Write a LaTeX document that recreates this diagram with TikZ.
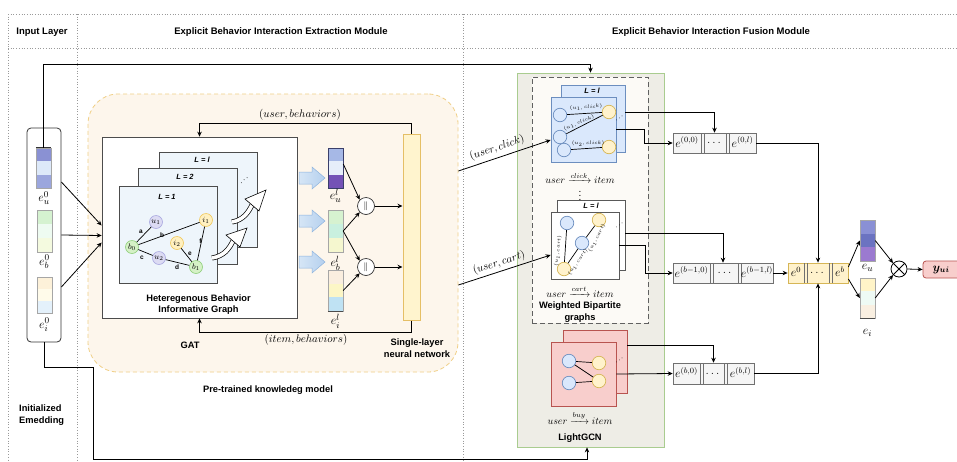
\documentclass[tikz,border=0pt]{standalone}
\usepackage{amsmath}
\usepackage[no-math]{fontspec}
\setmainfont{Liberation Sans}
\usetikzlibrary{arrows.meta,calc}
\definecolor{orfill}{HTML}{FDF6EC}
\definecolor{ordash}{HTML}{F0CF86}
\definecolor{gfill}{HTML}{EEEDE6}
\definecolor{gborder}{HTML}{A9CC8F}
\definecolor{wbfill}{HTML}{FCFAF6}
\definecolor{cardblue}{HTML}{EEF5FB}
\definecolor{bpblue}{HTML}{DAE8FC}
\definecolor{bpblueb}{HTML}{6C8EBF}
\definecolor{yel}{HTML}{FFF2CC}
\definecolor{yelb}{HTML}{D6B656}
\definecolor{redf}{HTML}{F8CECC}
\definecolor{redb}{HTML}{B85450}
\definecolor{lavf}{HTML}{DCDBF3}
\definecolor{lavb}{HTML}{A9A8E0}
\definecolor{grnf}{HTML}{D5F1C6}
\definecolor{grnb}{HTML}{8FCF7A}
\definecolor{gyf}{HTML}{FFF0C0}
\definecolor{gyb}{HTML}{F0C85A}
\definecolor{slf}{HTML}{FFF4CE}
\definecolor{slb}{HTML}{E5BF66}
\definecolor{rowf}{HTML}{F5F5F5}
\definecolor{rowb}{HTML}{707070}
\definecolor{arrf}{HTML}{B5D0EE}
\definecolor{arrfl}{HTML}{D6E6F6}
\definecolor{arrb}{HTML}{8DB3DE}
\definecolor{divc}{HTML}{9A9A9A}
% bar colours
\definecolor{ca1}{HTML}{8A91D3}\definecolor{ca2}{HTML}{DDE9F9}\definecolor{ca3}{HTML}{9BA6DD}
\definecolor{cb1}{HTML}{D5F2D0}\definecolor{cb2}{HTML}{EEFBF1}\definecolor{cb3}{HTML}{F4FADF}
\definecolor{cc1}{HTML}{FDF1D9}\definecolor{cc2}{HTML}{FFFBEA}\definecolor{cc3}{HTML}{E4F1FB}
\definecolor{cd1}{HTML}{A6B8E6}\definecolor{cd2}{HTML}{E6EEFA}\definecolor{cd3}{HTML}{7452B6}\definecolor{cdb}{HTML}{3A3F6A}
\definecolor{ce1}{HTML}{D6F2D0}\definecolor{ce2}{HTML}{C9F0DF}\definecolor{ce3}{HTML}{F5F7CF}
\definecolor{cf1}{HTML}{FAEEDF}\definecolor{cf2}{HTML}{FCF6C6}\definecolor{cf3}{HTML}{BFE2F3}
\definecolor{cg1}{HTML}{8A90D5}\definecolor{cg2}{HTML}{6B73C1}\definecolor{cg3}{HTML}{9B7AD0}
\definecolor{ch1}{HTML}{FFF4C8}\definecolor{ch2}{HTML}{EEFAF4}\definecolor{ch3}{HTML}{F9EFE1}
\begin{document}
\begin{tikzpicture}[x=1pt,y=-1pt,
  hdr/.style={font=\fontsize{9.5}{11}\selectfont\bfseries, align=center, inner sep=1pt},
  bf/.style={font=\fontsize{9.3}{11.5}\selectfont\bfseries, align=center, inner sep=1pt},
  lt/.style={font=\fontsize{7.5}{8}\selectfont\bfseries\itshape, inner sep=0.5pt},
  mlab/.style={font=\fontsize{11}{12}\selectfont, inner sep=1pt},
  elab/.style={font=\fontsize{12.5}{14}\selectfont, inner sep=0.5pt},
  rlab/.style={font=\fontsize{11.5}{12}\selectfont, inner sep=0pt},
  flow/.style={font=\fontsize{10}{11}\selectfont, inner sep=0pt},
  tiny/.style={font=\fontsize{5}{6}\selectfont, inner sep=0.3pt},
  el/.style={font=\fontsize{6.5}{7}\selectfont\bfseries, inner sep=0.3pt},
  conn/.style={draw=black, line width=0.8pt, -{Stealth[length=5pt,width=4.5pt]}},
  ln/.style={draw=black, line width=0.7pt},
  div/.style={draw=divc, dotted, line width=0.7pt},
  tribar/.style n args={3}{draw=gray!70, line width=0.4pt, minimum width=15pt, minimum height=40pt, inner sep=0pt,
    path picture={
      \fill[#1] (path picture bounding box.north west) rectangle ($(path picture bounding box.north east)!0.3333!(path picture bounding box.south east)$);
      \fill[#2] ($(path picture bounding box.north west)!0.3333!(path picture bounding box.south west)$) rectangle ($(path picture bounding box.north east)!0.6667!(path picture bounding box.south east)$);
      \fill[#3] ($(path picture bounding box.north west)!0.6667!(path picture bounding box.south west)$) rectangle (path picture bounding box.south east);
    }},
  gnode/.style 2 args={circle, draw=#2, fill=#1, line width=0.6pt, minimum size=13pt, inner sep=0pt, font=\fontsize{8}{8}\selectfont},
  bnode/.style 2 args={circle, draw=#2, fill=#1, line width=0.7pt, minimum size=13.5pt, inner sep=0pt},
  lcard/.style={draw=gray!60!black, fill=cardblue, line width=0.6pt, inner sep=0pt},
  rowbox/.style={draw=rowb, fill=rowf, line width=0.6pt, minimum height=20pt, inner sep=0pt},
  sep/.style={draw=rowb, line width=0.6pt},
  barrow/.pic={\path[draw=arrb, line width=0.5pt, left color=arrfl, right color=arrf] (-13,-6) -- (0,-6) -- (0,-11) -- (13,0) -- (0,11) -- (0,6) -- (-13,6) -- cycle;}
]
\useasboundingbox (0,0) rectangle (957,461);
\fill[white] (0,0) rectangle (957,461);

% ---------- frame / dividers ----------
\draw[div] (8,14) -- (957,14);
\draw[div] (8,48) -- (957,48);
\draw[div] (8,14) -- (8,461);
\draw[div] (77.5,14) -- (77.5,461);
\draw[div] (463.5,14) -- (463.5,461);
\node[hdr] (h1) at (42,32) {Input Layer};
\node[hdr] (h2) at (281,32) {Explicit Behavior Interaction Extraction Module};
\node[hdr] (h3) at (711,32) {Explicit Behavior Interaction Fusion Module};

% ---------- pre-trained knowledge model ----------
\node[draw=ordash, dashed, dash pattern=on 4pt off 3pt, fill=orfill, line width=0.8pt, rounded corners=30pt,
      minimum width=370pt, minimum height=278pt, inner sep=0pt] (ptm) at (273,233) {};

% ---------- right panel ----------
\node[draw=gborder, fill=gfill, line width=0.8pt, minimum width=147pt, minimum height=374pt, inner sep=0pt] (lg) at (590.5,260) {};
\node[draw=gray!75!black, dashed, dash pattern=on 5pt off 3pt, fill=wbfill, line width=0.7pt, minimum width=116pt, minimum height=246pt, inner sep=0pt] (wb) at (590,200) {};

% ---------- input layer ----------
\node[draw=black!80, line width=0.8pt, rounded corners=4pt, minimum width=34pt, minimum height=214pt, inner sep=0pt] (inp) at (44,235) {};
\node[tribar={ca1}{ca2}{ca3}] (eu0) at (43.5,168) {};
\draw[line width=1pt, black!80] (eu0.north west) -- (eu0.north east);
\node[elab] (leu0) at (44,198) {$e_u^0$};
\node[tribar={cb1}{cb2}{cb3}, minimum height=42pt] (eb0) at (44.5,231) {};
\node[elab] (leb0) at (44.5,262) {$e_b^0$};
\node[tribar={cc1}{cc2}{cc3}, minimum height=36pt] (ei0) at (44.5,295) {};
\node[elab] (lei0) at (44.5,325) {$e_i^0$};
\node[bf, anchor=west, align=left] (init) at (18,415) {Initialized\\Emedding};

% ---------- heterogeneous graph ----------
\node[draw=gray!60!black, fill=white, line width=0.7pt, minimum width=195pt, minimum height=181pt, inner sep=0pt] (hg) at (199.5,227.5) {};
\node[lcard, minimum width=98pt, minimum height=95pt] (c3) at (208,199.5) {};
\node[lcard, minimum width=99pt, minimum height=96pt] (c2) at (187.5,216) {};
\node[lcard, minimum width=98pt, minimum height=97pt] (c1) at (168,234.5) {};
\node[lt] (lc3) at (202,160) {L = l};
\node[lt] (lc2) at (185,177) {L = 2};
\node[lt] (lc1) at (167,197) {L = 1};
\node[rotate=40, font=\fontsize{8}{8}\selectfont, inner sep=0pt] (dd0) at (245,180) {$\cdots$};

\node[gnode={lavf}{lavb}] (u1) at (156,222) {$u_1$};
\node[gnode={grnf}{grnb}] (b0) at (132,247) {$b_0$};
\node[gnode={gyf}{gyb}] (i1) at (206,220) {$i_1$};
\node[gnode={gyf}{gyb}] (i2) at (177,243) {$i_2$};
\node[gnode={lavf}{lavb}] (u2) at (159,258) {$u_2$};
\node[gnode={grnf}{grnb}] (b1) at (196,267) {$b_1$};
\draw[ln] (b0) -- (u1);
\draw[ln] (b0) -- (i1);
\draw[ln] (b0) -- (u2);
\draw[ln] (u2) -- (b1);
\draw[ln] (i2) -- (b1);
\draw[ln] (i1) -- (b1);
\node[el] (ea) at (141,232) {a};
\node[el] (eb) at (162,235) {b};
\node[el] (ec) at (142,258) {c};
\node[el] (ed) at (177,267) {d};
\node[el] (ee) at (190,254) {e};
\node[el] (ef) at (200.5,241) {f};

% curved hollow arrows
\draw[line width=5pt] (212,258) .. controls (224,256) and (229,249) .. (233,241);
\draw[line width=3.6pt, white] (212,258) .. controls (224,256) and (229,249) .. (233,241);
\filldraw[fill=white, draw=black, line width=0.6pt] (226,235) -- (247,228) -- (240,247) -- cycle;
\draw[line width=5pt] (232,222) .. controls (243,220) and (248,213) .. (252,205);
\draw[line width=3.6pt, white] (232,222) .. controls (243,220) and (248,213) .. (252,205);
\filldraw[fill=white, draw=black, line width=0.6pt] (245,199) -- (266,190) -- (259,211) -- cycle;

\node[bf] (hgt) at (198.5,304.5) {Heteregenous Behavior\\Informative Graph};
\node[bf] (gat) at (190,345) {GAT};

% input -> graph
\draw[conn] ([yshift=53pt]inp.east) -- ([yshift=2pt]hg.west);
\draw[conn] (inp.east) -- ([yshift=-8pt]hg.west);
\draw[conn] ([yshift=-52pt]inp.east) -- ([yshift=-15pt]hg.west);

% ---------- layer embeddings ----------
\pic at (312,178) {barrow};
\pic at (312,221) {barrow};
\pic at (312,262) {barrow};
\node[tribar={cd1}{cd2}{cd3}, draw=cdb, line width=0.6pt] (eul) at (335.5,168) {};
\node[elab] (leul) at (335.5,196) {$e_u^l$};
\node[tribar={ce1}{ce2}{ce3}, minimum height=42pt] (ebl) at (335.5,231) {};
\node[elab] (lebl) at (335.5,263) {$e_b^l$};
\node[tribar={cf1}{cf2}{cf3}, minimum height=41pt] (eil) at (335.5,290.5) {};
\draw[line width=1pt, black!70] (eil.south west) -- (eil.south east);
\node[elab] (leil) at (335.5,321) {$e_i^l$};

\node[circle, draw=black!80, fill=white, line width=0.7pt, minimum size=17pt, inner sep=0pt, font=\fontsize{9}{9}\selectfont] (cc1) at (366,206) {$\|$};
\node[circle, draw=black!80, fill=white, line width=0.7pt, minimum size=17pt, inner sep=0pt, font=\fontsize{9}{9}\selectfont] (cc2) at (366,267) {$\|$};
\node[draw=slb, fill=slf, line width=1pt, minimum width=17pt, minimum height=186pt, inner sep=0pt] (sl) at (411.5,227) {};
\draw[conn] ([yshift=4pt]eul.east) -- (cc1.north west);
\draw[conn] (ebl.east) -- (cc1.south west);
\draw[conn] (ebl.east) -- (cc2.north west);
\draw[conn] (eil.east) -- (cc2.south west);
\draw[conn] (cc1.east) -- (sl.west |- cc1.east);
\draw[conn] (cc2.east) -- (sl.west |- cc2.east);

% feedback loops
\draw[conn] (sl.north) -- ++(0,-10) -| (hg.north);
\draw[conn] (sl.south) -- ++(0,12) -| (hg.south);
\node[mlab] (ub) at (300,115) {$(user, behaviors)$};
\node[mlab] (ib) at (306,340) {$(item, behaviors)$};
\node[bf] (slt) at (417,348) {Single-layer\\neural network};
\node[bf] (ptt) at (268,390) {Pre-trained knowledeg model};

% ---------- top bipartite (click) ----------
\node[draw=bpblueb, fill=bpblue, line width=0.7pt, minimum width=64pt, minimum height=67pt, inner sep=0pt] (bk1) at (593,118.5) {};
\node[draw=bpblueb, fill=bpblue, line width=0.7pt, minimum width=65pt, minimum height=65pt, inner sep=0pt] (fr1) at (583.5,129.5) {};
\node[lt] (lbk1) at (592,91) {L = l};
\node[bnode={bpblue}{bpblueb}] (ua) at (560,115) {};
\node[bnode={bpblue}{bpblueb}] (ubb) at (560,137) {};
\node[bnode={bpblue}{bpblueb}] (uc) at (564,150) {};
\node[bnode={yel}{yelb}] (ia) at (609,112) {};
\node[bnode={yel}{yelb}] (ib2) at (609,147) {};
\draw[ln] (ua) -- (ia);
\draw[ln] (ubb) -- (ia);
\draw[ln] (uc) -- (ib2);
\node[tiny, rotate=4] (t1) at (586,107.5) {$(u_1, click)$};
\node[tiny, rotate=22] (t2) at (579,123) {$(u_1, click)$};
\node[tiny] (t3) at (588,143.5) {$(u_2, click)$};
\node[rotate=40, font=\fontsize{7}{7}\selectfont, inner sep=0pt] (dd1) at (620,118) {$\cdots$};
\node[flow] (rc) at (580,178) {$user \xrightarrow{click} item$};
\node[flow] (vd) at (580,193) {$\vdots$};

% ---------- middle bipartite (cart) ----------
\node[draw=gray!70!black, fill=white, line width=0.7pt, minimum width=68pt, minimum height=70pt, inner sep=0pt] (bk2) at (591,235) {};
\node[draw=gray!70!black, fill=white, line width=0.7pt, minimum width=68pt, minimum height=67pt, inner sep=0pt] (fr2) at (585,245.5) {};
\node[lt] (lbk2) at (591,206) {L = l};
\node[bnode={bpblue}{bpblueb}] (pa) at (567,223) {};
\node[bnode={bpblue}{bpblueb}] (pb) at (582,243) {};
\node[bnode={yel}{yelb}] (qa) at (599,220) {};
\node[bnode={yel}{yelb}] (qb) at (564,269) {};
\draw[ln] (pa) -- (qb);
\draw[ln] (pb) -- (qb);
\draw[ln] (qa) -- (pb);
\node[tiny, rotate=83] (t4) at (558,251) {$(u_1, cart)$};
\node[tiny, rotate=55] (t5) at (578,262) {$(u_1, cart)$};
\node[tiny, rotate=62] (t6) at (597,238) {$(u_1, cart)$};
\node[rotate=40, font=\fontsize{7}{7}\selectfont, inner sep=0pt] (dd2) at (620,225) {$\cdots$};
\node[flow] (rca) at (580,292) {$user \xrightarrow{cart} item$};
\node[bf] (wbt) at (580,312) {Weighted Bipartite\\graphs};

% ---------- LightGCN (buy) ----------
\node[draw=redb, fill=redf, line width=0.7pt, minimum width=64pt, minimum height=63pt, inner sep=0pt] (bk3) at (595,361.5) {};
\node[draw=redb, fill=redf, line width=0.7pt, minimum width=65pt, minimum height=64pt, inner sep=0pt] (fr3) at (583.5,374) {};
\node[bnode={bpblue}{bpblueb}] (la) at (569,361) {};
\node[bnode={bpblue}{bpblueb}] (lb) at (569,383) {};
\node[bnode={yel}{yelb}] (ma) at (599,363) {};
\node[bnode={yel}{yelb}] (mb) at (599,381) {};
\draw[ln] (la) -- (ma);
\draw[ln] (la) -- (mb);
\draw[ln] (lb) -- (mb);
\node[rotate=40, font=\fontsize{7}{7}\selectfont, inner sep=0pt] (dd3) at (620,360) {$\cdots$};
\node[flow] (rb) at (580,418) {$user \xrightarrow{buy} item$};
\node[bf] (lgt) at (580,438) {LightGCN};

% ---------- SLNN -> bipartite ----------
\draw[conn] ([yshift=62pt]ptm.east) -- ([yshift=-10.5pt]fr1.west);
\draw[conn] ([yshift=-52pt]ptm.east) -- ([yshift=-9.5pt]fr2.west);
\node[mlab, rotate=19] (luc) at (497,148) {$(user, click)$};
\node[mlab, rotate=18] (luca) at (499,263) {$(user, cart)$};

% top / bottom long connectors
\draw[conn] (eu0.north) -- ++(0,-83) -| (lg.north);
\coordinate (bk) at (93,367);
\draw[conn] (inp.south) |- (bk) |- ($(lg.south)+(-3.5,12)$) -- ([xshift=-3.5pt]lg.south);

% ---------- concatenation rows ----------
\node[rowbox, minimum width=83pt] (r1) at (714.5,143) {};
\draw[sep] (701,133) -- (701,153); \draw[sep] (704,133) -- (704,153);
\draw[sep] (726,133) -- (726,153); \draw[sep] (729,133) -- (729,153);
\node[rlab] (r1a) at (687,142) {$e^{(0,0)}$};
\node[rlab] (r1b) at (715,143) {$\dots$};
\node[rlab] (r1c) at (742.5,142) {$e^{(0,l)}$};

\node[rowbox, minimum width=100pt] (r2) at (723,273) {};
\draw[sep] (710,263) -- (710,283); \draw[sep] (713,263) -- (713,283);
\draw[sep] (738,263) -- (738,283); \draw[sep] (741,263) -- (741,283);
\node[rlab] (r2a) at (691.5,272) {$e^{(b-1,0)}$};
\node[rlab] (r2b) at (725.5,273) {$\dots$};
\node[rlab] (r2c) at (757,272) {$e^{(b-1,l)}$};

\node[rowbox, minimum width=81pt, minimum height=21pt] (r3) at (713.5,373.5) {};
\draw[sep] (700,363) -- (700,384); \draw[sep] (703,363) -- (703,384);
\draw[sep] (724,363) -- (724,384); \draw[sep] (727,363) -- (727,384);
\node[rlab] (r3a) at (686.5,372.5) {$e^{(b,0)}$};
\node[rlab] (r3b) at (713.5,373.5) {$\dots$};
\node[rlab] (r3c) at (740.5,372.5) {$e^{(b,l)}$};

\node[draw=yelb, fill=yel, line width=0.8pt, minimum width=60pt, minimum height=20pt, inner sep=0pt] (yr) at (818,273) {};
\draw[sep] (804,263) -- (804,283); \draw[sep] (807,263) -- (807,283);
\draw[sep] (829,263) -- (829,283); \draw[sep] (832,263) -- (832,283);
\node[rlab] (yra) at (796,272) {$e^{0}$};
\node[rlab] (yrb) at (818,273) {$\dots$};
\node[rlab] (yrc) at (840,272) {$e^{b}$};

% graph cards -> rows
\draw[conn] ([yshift=6.5pt]bk1.east) -| (r1.north);
\draw[conn] (fr1.east) -- ++(28,0) |- (r1.west);
\draw[conn] ([yshift=2pt]bk2.east) -| (r2.north);
\draw[conn] (fr2.east) -- ++(26,0) |- (r2.west);
\draw[conn] ([yshift=16.5pt]bk3.east) -| (r3.north);
\draw[conn] (fr3.east) -- (r3.west);
\draw[conn] (r1.east) -| (yr.north);
\draw[conn] (r2.east) -- (yr.west);
\draw[conn] (r3.east) -| (yr.south);

% ---------- final embeddings & prediction ----------
\node[tribar={cg1}{cg2}{cg3}, minimum height=41pt] (euf) at (867.5,240.5) {};
\node[elab] (leuf) at (867.5,268) {$e_u$};
\node[tribar={ch1}{ch2}{ch3}] (eif) at (867.5,298) {};
\draw[line width=1pt, black!70] (eif.south west) -- (eif.south east);
\node[elab] (leif) at (867.5,333) {$e_i$};
\draw[conn] ([yshift=6pt]yr.east) -- (euf.west);
\draw[conn] ([yshift=-6pt]yr.east) -- (eif.west);
\node[circle, draw=black, fill=white, line width=0.8pt, minimum size=16pt, inner sep=0pt] (ot) at (899,269) {};
\draw[line width=0.8pt] (ot.north west) -- (ot.south east);
\draw[line width=0.8pt] (ot.north east) -- (ot.south west);
\draw[conn] (euf.east) -- (ot.north west);
\draw[conn] (eif.east) -- (ot.south west);
\node[draw=redb, fill=redf, line width=0.8pt, rounded corners=3pt, minimum width=40pt, minimum height=17pt, inner sep=0pt, font=\fontsize{11.5}{12}\selectfont] (yui) at (943,269.5) {$\boldsymbol{y_{ui}}$\hspace*{4pt}};
\draw[conn] (ot.east) -- (yui.west);
\end{tikzpicture}
\end{document}
